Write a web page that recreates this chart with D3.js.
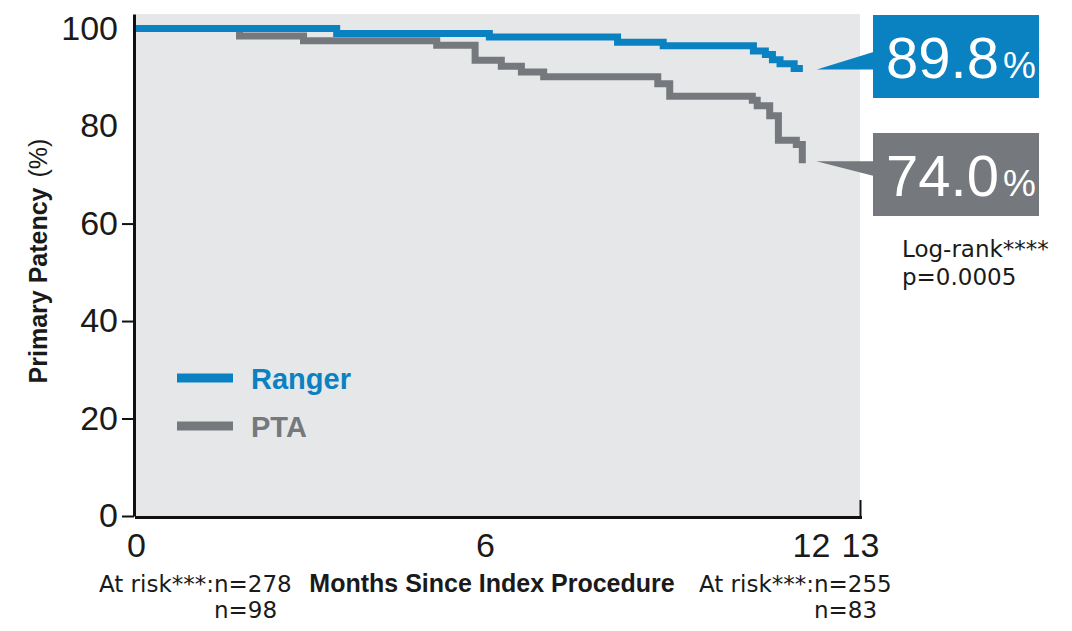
<!DOCTYPE html>
<html lang="en">
  <head>
    <meta charset="UTF-8" />
    <title>Primary Patency</title>
    <script src="https://d3js.org/d3.v7.min.js"></script>
    <style>
      html,
      body {
        margin: 0;
        padding: 0;
        background: #fff;
      }
      svg {
        display: block;
      }
      text {
        font-family: "Liberation Sans", Arial, sans-serif;
        fill: #1a1a1a;
      }
      .note {
        font-family: "DejaVu Sans", sans-serif;
        font-size: 23px;
      }
    </style>
  </head>
  <body>
    <svg width="1072" height="631"></svg>

    <script>
      // Kaplan-Meier steps (months, %)
      const rangerMonths = [0, 3.45, 6.08, 8.44, 9.28, 10.94, 11.16, 11.29, 11.43, 11.69, 11.85];
      const rangerPatency = [100, 99.0, 98.3, 97.2, 96.5, 95.4, 94.7, 93.6, 92.8, 91.8, 91.8];

      const ptaMonths = [0, 1.78, 2.88, 5.17, 5.83, 6.3, 6.67, 7.08, 9.18, 9.4, 10.92, 11.01, 11.24, 11.4, 11.73, 11.84];
      const ptaPatency = [100, 98.5, 97.5, 96.6, 93.5, 92.3, 91.1, 90.1, 88.7, 86.1, 85.3, 84.2, 82.1, 77.1, 76.2, 72.4];

      const seriesNames = ["Ranger", "PTA"];
      const finalLabels = ["89.8", "74.0"];
      const colors = ["#0a81c1", "#75797d"];

      const xTicks = [0, 6, 12, 13];
      const yTicks = [0, 20, 40, 60, 80, 100];

      const atRiskStart = [278, 98];
      const atRiskEnd = [255, 83];

      const svg = d3.select("svg");

      // scales (x axis in the figure is not evenly spaced)
      const x = d3.scaleLinear().domain(xTicks).range([136, 485, 811, 860]);
      const y = d3.scaleLinear().domain([0, 103]).range([516, 14]);

      // plot background
      svg
        .append("rect")
        .attr("x", x(0))
        .attr("y", y(103))
        .attr("width", x(13) - x(0))
        .attr("height", y(0) - y(103))
        .attr("fill", "#e6e7e9");

      // y axis
      const yAxis = svg
        .append("g")
        .attr("transform", "translate(134,0)")
        .call(d3.axisLeft(y).tickValues(yTicks).tickSize(12).tickPadding(4).tickSizeOuter(0));
      yAxis.select(".domain").attr("stroke", "#111").attr("stroke-width", 3);
      yAxis.selectAll(".tick line").attr("stroke", "#111").attr("stroke-width", 2);
      yAxis.selectAll(".tick").filter((d) => d >= 80).select("line").remove();
      yAxis
        .selectAll(".tick text")
        .attr("font-family", '"Liberation Sans", Arial, sans-serif')
        .attr("font-size", 34)
        .attr("fill", "#1a1a1a");

      // x axis
      const xAxis = svg
        .append("g")
        .attr("transform", "translate(0,517)")
        .call(d3.axisBottom(x).tickValues(xTicks).tickSize(-17).tickPadding(16).tickSizeOuter(0));
      xAxis
        .select(".domain")
        .attr("stroke", "#111")
        .attr("stroke-width", 3)
        .attr("stroke-linecap", "square");
      xAxis.selectAll(".tick line").attr("stroke", "#111").attr("stroke-width", 2);
      xAxis.selectAll(".tick").filter((d) => d !== 13).select("line").remove();
      xAxis
        .selectAll(".tick text")
        .attr("font-family", '"Liberation Sans", Arial, sans-serif')
        .attr("font-size", 34)
        .attr("fill", "#1a1a1a");

      // curves
      const series = [
        rangerMonths.map((m, i) => ({ m: m, v: rangerPatency[i] })),
        ptaMonths.map((m, i) => ({ m: m, v: ptaPatency[i] })),
      ];
      const line = d3
        .line()
        .x((d) => x(d.m))
        .y((d) => y(d.v))
        .curve(d3.curveStepAfter);

      // PTA first so Ranger sits on top
      [1, 0].forEach((i) => {
        svg
          .append("path")
          .datum(series[i])
          .attr("d", line)
          .attr("fill", "none")
          .attr("stroke", colors[i])
          .attr("stroke-width", 7)
          .attr("stroke-linejoin", "miter");
      });

      // legend
      seriesNames.forEach((name, i) => {
        const ly = 378 + i * 48;
        svg
          .append("line")
          .attr("x1", 177)
          .attr("x2", 233)
          .attr("y1", ly)
          .attr("y2", ly)
          .attr("stroke", colors[i])
          .attr("stroke-width", 9);
        svg
          .append("text")
          .attr("x", 251)
          .attr("y", ly + 11)
          .attr("font-size", 29)
          .attr("font-weight", "bold")
          .style("fill", colors[i])
          .text(name);
      });

      // end-value callouts
      const boxTops = [15, 133];
      series.forEach((s, i) => {
        const last = s[s.length - 1];
        const tipX = x(last.m) + 14;
        const tipY = y(last.v);
        const top = boxTops[i];
        const pts =
          i === 0
            ? [[tipX, tipY + 1], [875, tipY - 17], [875, tipY + 1]]
            : [[tipX, tipY - 2], [875, tipY - 2], [875, tipY + 13]];
        svg.append("polygon").attr("points", pts.map((p) => p.join(",")).join(" ")).attr("fill", colors[i]);
        svg
          .append("rect")
          .attr("x", 873)
          .attr("y", top)
          .attr("width", 166)
          .attr("height", 83)
          .attr("fill", colors[i]);
        const t = svg
          .append("text")
          .attr("x", 886)
          .attr("y", top + 63)
          .attr("font-size", 58)
          .style("fill", "#fff")
          .text(finalLabels[i]);
        t.append("tspan").attr("dx", 4).attr("font-size", 37).text("%");
      });

      // log-rank note
      svg.append("text").attr("class", "note").attr("x", 902).attr("y", 257).text("Log-rank****");
      svg.append("text").attr("class", "note").attr("x", 902).attr("y", 285).text("p=0.0005");

      // axis titles
      svg
        .append("text")
        .attr("x", 492)
        .attr("y", 592)
        .attr("text-anchor", "middle")
        .attr("font-size", 25)
        .attr("font-weight", "bold")
        .text("Months Since Index Procedure");

      const yTitle = svg
        .append("text")
        .attr("transform", "translate(47,261) rotate(-90)")
        .attr("text-anchor", "middle")
        .attr("font-size", 25);
      yTitle.append("tspan").attr("font-weight", "bold").text("Primary Patency");
      yTitle.append("tspan").attr("dx", 10).text("(%)");

      // numbers at risk
      [
        [214, atRiskStart],
        [814, atRiskEnd],
      ].forEach(([nx, counts]) => {
        svg
          .append("text")
          .attr("class", "note")
          .attr("x", nx)
          .attr("y", 592)
          .attr("text-anchor", "end")
          .text("At risk***:");
        counts.forEach((n, j) => {
          svg
            .append("text")
            .attr("class", "note")
            .attr("x", nx)
            .attr("y", 592 + j * 26)
            .text("n=" + n);
        });
      });
    </script>
  </body>
</html>
